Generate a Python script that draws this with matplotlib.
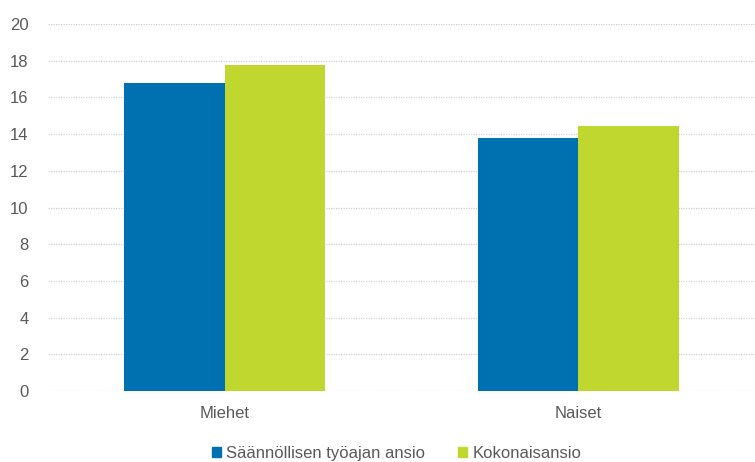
import numpy as np
import matplotlib; matplotlib.use("Agg"); import matplotlib.pyplot as plt
from matplotlib.patches import Patch

categories = ["Miehet", "Naiset"]
series_names = ["Säännöllisen työajan ansio", "Kokonaisansio"]
regular = [16.8, 13.8]
total = [17.75, 14.45]
colors = ["#0071b0", "#c0d72f"]

plt.rcParams["font.family"] = ["Liberation Sans", "DejaVu Sans"]
fig = plt.figure(figsize=(7.55, 4.62), dpi=100)
ax = fig.add_axes([48 / 755, 71 / 462, 707 / 755, 367 / 462])

x = np.arange(len(categories))
w = 0.285
ax.bar(x - w / 2, regular, w, color=colors[0], label=series_names[0])
ax.bar(x + w / 2, total, w, color=colors[1], label=series_names[1])

ax.set_xlim(-0.5, 1.5)
ax.set_ylim(0, 20)
ax.set_yticks(range(0, 21, 2))
ax.set_xticks(x, categories)
ax.tick_params(length=0, labelsize=12, colors="#595959")
ax.tick_params(axis="y", pad=14)
ax.tick_params(axis="x", pad=11)
ax.grid(axis="y", color="#d0d0d0", ls=(0, (1, 1)), lw=0.9)
ax.set_axisbelow(True)
for s in ax.spines.values():
    s.set_visible(False)

handles = [Patch(color=c) for c in colors]
fig.legend(handles, series_names, loc="lower center", bbox_to_anchor=(0.525, -0.03), ncol=2,
           frameon=False, fontsize=12, handlelength=0.55, handleheight=0.55, handletextpad=0.3,
           columnspacing=2.0, labelcolor="#595959")

fig.savefig("out.png", dpi=100)
